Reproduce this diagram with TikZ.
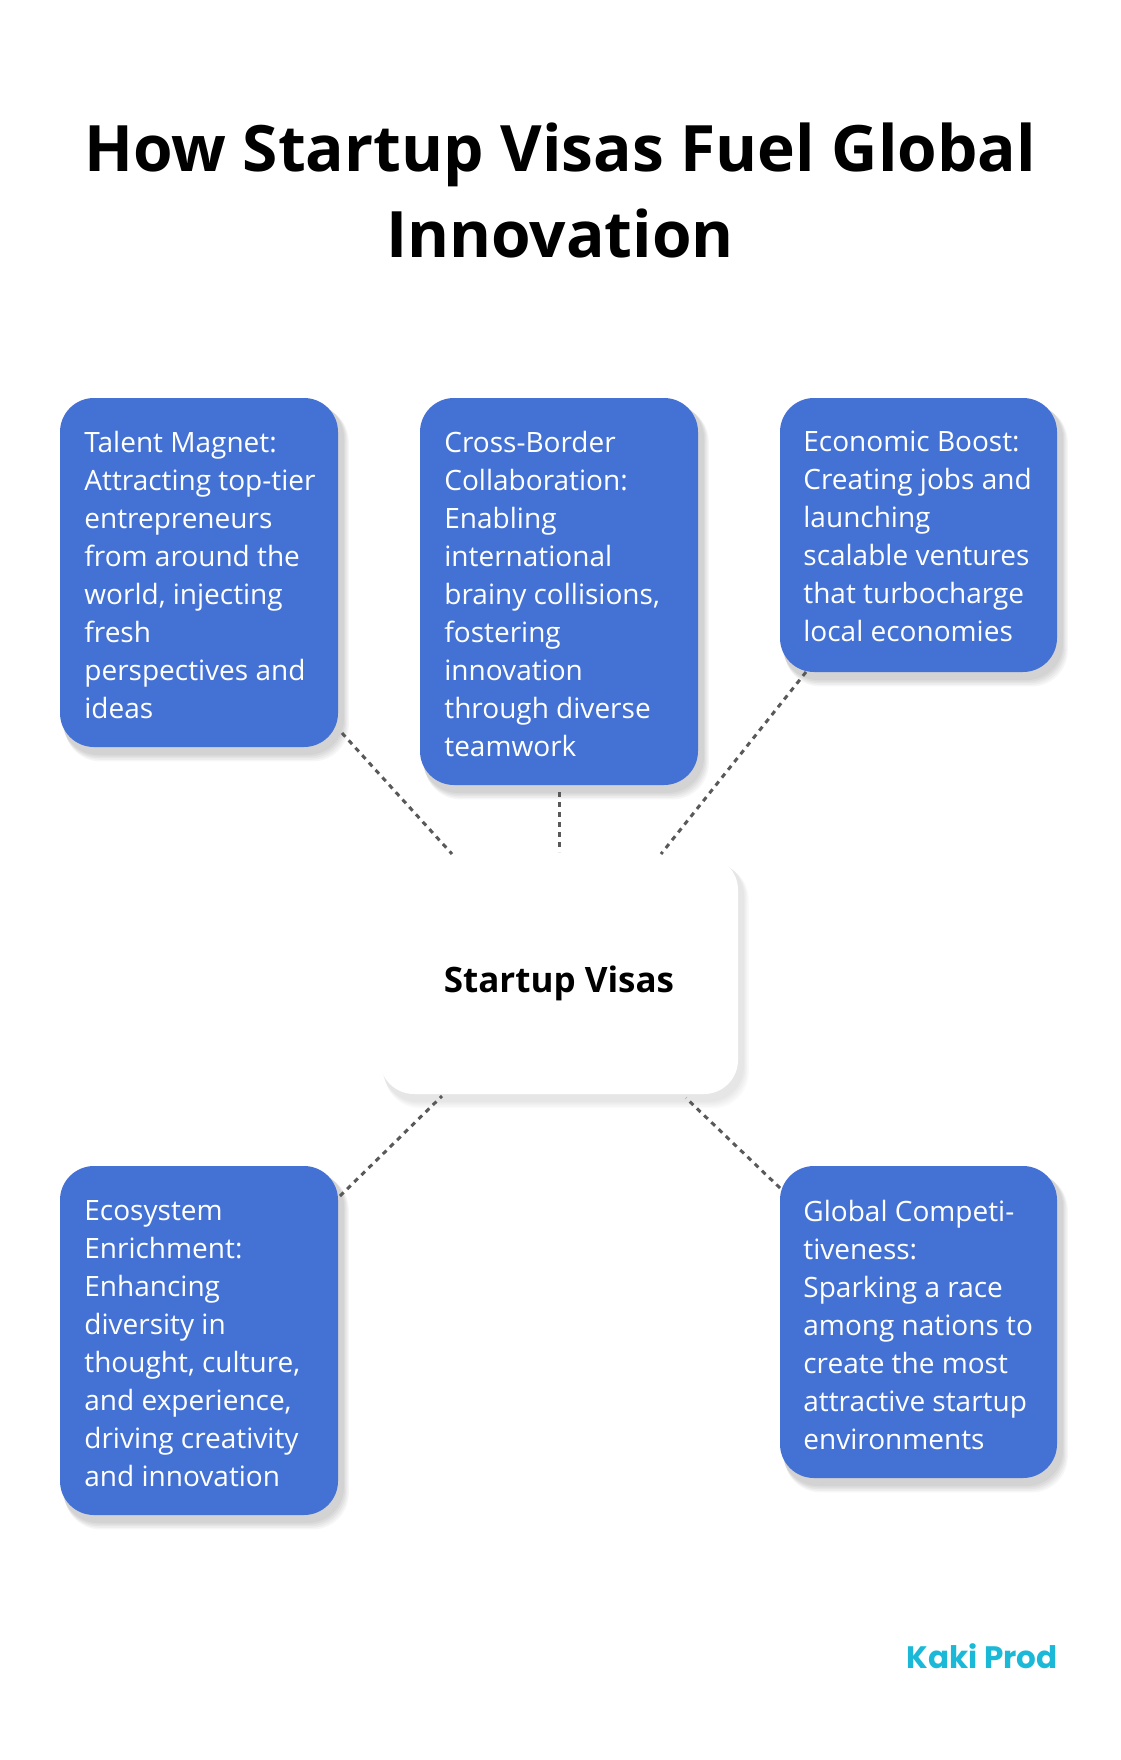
\documentclass[tikz,border=0pt]{standalone}
\usepackage{fontspec}
\setmainfont{Open Sans}
\newfontfamily\logofont{Poppins}
\definecolor{boxblue}{HTML}{4472D4}
\definecolor{logoc}{HTML}{1BB8D8}
\newcommand{\softshadow}[5]{% x1 y1 x2 y2 opacity
  \foreach \k in {0,2,4,6,8}{%
    \fill[black,opacity=#5,rounded corners=18pt]
      ({#1+2+\k*0.3},{#2+4+\k*0.5}) rectangle ({#3+6+\k*0.6},{#4+8+\k*0.8});}}
\begin{document}
\begin{tikzpicture}[x=0.5pt,y=-0.5pt,
  card/.style={fill=boxblue,rounded corners=17pt,draw=none},
  cardtext/.style={anchor=north west,align=left,text=white,inner sep=0pt,
    font=\fontsize{14}{19}\selectfont},
  link/.style={draw=black!65,line width=1.5pt,dash pattern=on 2.5pt off 2.5pt}]
\useasboundingbox (0,0) rectangle (1120,1760);
\fill[white] (0,0) rectangle (1120,1760);
\node[font=\fontsize{32}{43}\selectfont\bfseries,align=center] (title) at (560,190)
  {How Startup Visas Fuel Global\\Innovation};
% shadows
\softshadow{60}{398}{338}{747}{0.035}
\softshadow{420}{398}{698}{785}{0.035}
\softshadow{780}{398}{1057}{672}{0.035}
\softshadow{60}{1166}{338}{1515}{0.035}
\softshadow{780}{1166}{1057}{1478}{0.035}
\softshadow{380}{856}{738}{1094}{0.02}
% cards
\path[card] (60,398) rectangle (338,747);
\path[card] (420,398) rectangle (698,785);
\path[card] (780,398) rectangle (1057,672);
\path[card] (60,1166) rectangle (338,1515);
\path[card] (780,1166) rectangle (1057,1478);
\path[fill=white,rounded corners=17pt] (380,856) rectangle (738,1094);
\node[font=\fontsize{17.5}{20}\selectfont\bfseries] (c) at (559,983) {Startup Visas};
\node[cardtext] (t1) at (84,431) {Talent Magnet:\\Attracting top-tier\\entrepreneurs\\from around the\\world, injecting\\fresh\\perspectives and\\ideas};
\node[cardtext] (t2) at (444,431) {Cross-Border\\Collaboration:\\Enabling\\international\\brainy collisions,\\fostering\\innovation\\through diverse\\teamwork};
\node[cardtext] (t3) at (803,431) {Economic Boost:\\Creating jobs and\\launching\\scalable ventures\\that turbocharge\\local economies};
\node[cardtext] (t4) at (84,1200) {Ecosystem\\Enrichment:\\Enhancing\\diversity in\\thought, culture,\\and experience,\\driving creativity\\and innovation};
\node[cardtext] (t5) at (803,1200) {Global Competi-\\tiveness:\\Sparking a race\\among nations to\\create the most\\attractive startup\\environments};
% connectors
\coordinate (a1) at (342,733); \coordinate (c1) at (452,854);
\coordinate (a2) at (559,792); \coordinate (c2) at (559,852);
\coordinate (a3) at (806,672); \coordinate (c3) at (661,854);
\coordinate (a4) at (340,1196); \coordinate (c4) at (442,1096);
\coordinate (a5) at (780,1188); \coordinate (c5) at (686,1098);
\draw[link] (a1) -- (c1);
\draw[link] (a2) -- (c2);
\draw[link] (a3) -- (c3);
\draw[link] (a4) -- (c4);
\draw[link] (a5) -- (c5);
\node[font=\logofont\bfseries\fontsize{15.5}{18}\selectfont,text=logoc,anchor=east,inner sep=0pt] (logo) at (1058,1656) {Kaki Prod};
\end{tikzpicture}
\end{document}
